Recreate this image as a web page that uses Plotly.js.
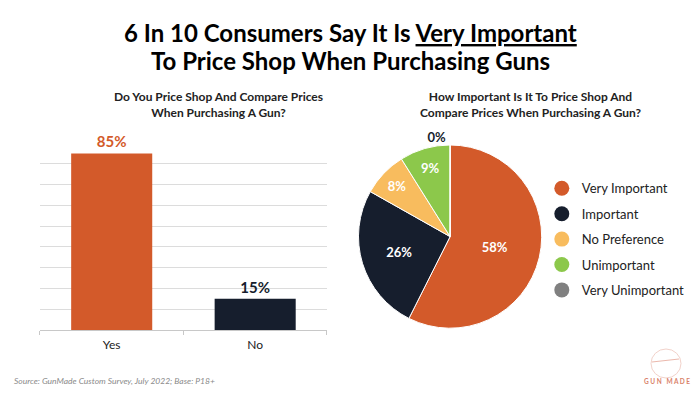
<!DOCTYPE html>
<html>
<head>
<meta charset="utf-8">
<script src="https://cdn.plot.ly/plotly-3.0.1.min.js"></script>
<style>html,body{margin:0;padding:0;background:#fff;}#chart{width:700px;height:394px;}</style>
</head>
<body>
<div id="chart"></div>
<script>
// Data
const barCategories = ['Yes', 'No'];
const barValues = [85, 15];
const pieLabels = ['Very Important', 'Important', 'No Preference', 'Unimportant', 'Very Unimportant'];
const pieValues = [58, 26, 8, 9, 0];

const ORANGE = '#D35A2A', NAVY = '#161E2D', LIGHTOR = '#F8BC5E', GREEN = '#8CC84B', GRAY = '#808080';
const pieColors = [ORANGE, NAVY, LIGHTOR, GREEN, GRAY];
const FONT = 'Lato, "Open Sans", sans-serif';

const traces = [];
traces.push({
  type: 'bar', x: barCategories, y: barValues,
  marker: {color: [ORANGE, NAVY]},
  texttemplate: '<b>%{y}%</b>', textposition: 'outside', cliponaxis: false,
  textfont: {family: FONT, size: 15, color: [ORANGE, NAVY]},
  showlegend: false, hoverinfo: 'skip'
});
traces.push({
  type: 'pie', labels: pieLabels, values: pieValues, sort: false,
  direction: 'clockwise', rotation: 0,
  marker: {colors: pieColors, line: {color: '#fff', width: 1}},
  texttemplate: '<b>%{value}%</b>', textinfo: 'text',
  textposition: ['inside', 'inside', 'inside', 'inside', 'outside'],
  insidetextorientation: 'horizontal',
  textfont: {family: FONT, size: 13, color: ['#fff', '#fff', '#fff', '#fff', NAVY]},
  domain: {x: [0.51, 0.776], y: [0.167, 0.632]},
  showlegend: false, hoverinfo: 'skip'
});
pieLabels.forEach((lab, i) => {
  traces.push({
    type: 'scatter', mode: 'markers', x: [null], y: [null], xaxis: 'x2', yaxis: 'y2',
    name: lab, legendgroup: 'g' + i,
    marker: {color: pieColors[i], size: 15, symbol: 'circle'},
    showlegend: true, hoverinfo: 'skip'
  });
});

const layout = {
  width: 700, height: 394,
  margin: {l: 0, r: 0, t: 0, b: 0},
  paper_bgcolor: '#fff', plot_bgcolor: '#fff',
  font: {family: FONT, color: '#222'},
  showlegend: true,
  legend: {x: 0.774, y: 0.56, xanchor: 'left', yanchor: 'top', tracegroupgap: 5.5,
           font: {family: FONT, size: 13, color: '#222'}, bgcolor: 'rgba(0,0,0,0)'},
  xaxis: {domain: [0.0571, 0.467], type: 'category', showline: true, linecolor: '#c8c8c8',
          ticks: 'outside', tickson: 'boundaries', tickcolor: '#c8c8c8', ticklen: 4,
          ticklabelstandoff: 4,
          tickfont: {family: FONT, size: 12, color: '#222'}, showgrid: false, fixedrange: true},
  yaxis: {domain: [0.1624, 0.637], range: [0, 90], dtick: 10, showticklabels: false,
          showgrid: true, gridcolor: '#dcdcdc', gridwidth: 1, zeroline: false, fixedrange: true},
  xaxis2: {domain: [0.9, 0.95], visible: false, anchor: 'y2'},
  yaxis2: {domain: [0.9, 0.95], visible: false, anchor: 'x2'},
  bargap: 0.435,
  annotations: [
    {text: '<b>6 In 10 Consumers Say It Is <u>Very Important</u></b>',
     x: 0.5, y: 1 - 33/394, xref: 'paper', yref: 'paper', xanchor: 'center', yanchor: 'middle',
     showarrow: false, font: {family: FONT, size: 24, color: '#000'}},
    {text: '<b>To Price Shop When Purchasing Guns</b>',
     x: 0.5, y: 1 - 60/394, xref: 'paper', yref: 'paper', xanchor: 'center', yanchor: 'middle',
     showarrow: false, font: {family: FONT, size: 24, color: '#000'}},
    {text: '<b>Do You Price Shop And Compare Prices</b><br><b>When Purchasing A Gun?</b>',
     x: 219/700, y: 1 - 105/394, xref: 'paper', yref: 'paper', xanchor: 'center', yanchor: 'middle',
     showarrow: false, font: {family: FONT, size: 12, color: '#222'}},
    {text: '<b>How Important Is It To Price Shop And</b><br><b>Compare Prices When Purchasing A Gun?</b>',
     x: 530/700, y: 1 - 104/394, xref: 'paper', yref: 'paper', xanchor: 'center', yanchor: 'middle',
     showarrow: false, font: {family: FONT, size: 12, color: '#222'}},
    {text: '<i>Source: GunMade Custom Survey, July 2022; Base: P18+</i>',
     x: 12/700, y: 1 - 381/394, xref: 'paper', yref: 'paper', xanchor: 'left', yanchor: 'middle',
     showarrow: false, font: {family: FONT, size: 8.5, color: '#8a8a8a'}},
    {text: '<b>G U N   M A D E</b>',
     x: 667/700, y: 1 - 381/394, xref: 'paper', yref: 'paper', xanchor: 'center', yanchor: 'middle',
     showarrow: false, font: {family: FONT, size: 6.5, color: '#D9826A'}}
  ],
  shapes: [
    {type: 'circle', xref: 'paper', yref: 'paper', x0: 651/700, x1: 681/700, y0: 1 - 378/394, y1: 1 - 349/394,
     line: {color: '#F2D2CA', width: 1}},
    {type: 'line', xref: 'paper', yref: 'paper', x0: 652/700, x1: 679/700, y0: 1 - 362/394, y1: 1 - 359/394,
     line: {color: '#EBB8AC', width: 1}}
  ]
};

Plotly.newPlot('chart', traces, layout, {displayModeBar: false, staticPlot: true});
</script>
</body>
</html>
